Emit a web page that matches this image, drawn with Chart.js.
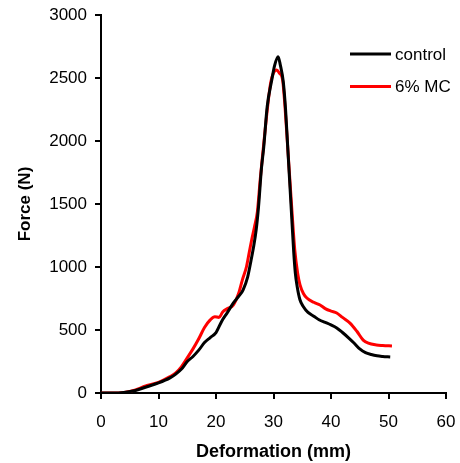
<!DOCTYPE html>
<html>
<head>
<meta charset="utf-8">
<script src="https://cdn.jsdelivr.net/npm/chart.js@4/dist/chart.umd.min.js"></script>
<style>
html,body{margin:0;padding:0;background:#fff;}
#wrap{position:relative;width:460px;height:463px;}
</style>
</head>
<body>
<div id="wrap"><canvas id="c" width="460" height="463"></canvas></div>
<script>
const seriesLabels = ["control", "6% MC"];
const seriesColors = ["#000000", "#ff0000"];
const controlX = [0,2,4,6,8,10,12,13,14,15,16,17,18,19,20,21,22,23,24,24.7,25.5,26,26.5,27,27.4,27.9,28.3,28.9,29.7,30.2,30.8,31.2,31.7,32.1,32.5,33.1,33.5,33.8,34.1,34.6,35.2,36,37,38,39,40,41,42,43,44,45,46,47,48,49,50.3];
const controlY = [0,0,5,20,50,80,120,150,190,250,290,340,400,440,480,570,640,714,770,817,920,1030,1150,1300,1480,1780,1950,2272,2484,2600,2669,2600,2470,2250,1930,1450,1130,950,850,740,685,640,610,579,560,540,516,480,440,397,350,320,305,295,290,286];
const mcX = [0,2,4,6,7.3,8,10,12,13,14,15,16,17,18,19,19.8,20.5,21.2,22,23,24,24.6,25.3,25.8,26.2,26.7,27.2,27.7,28.2,28.8,29.5,30,30.55,31,31.6,32,32.5,33.2,33.7,34.2,34.6,35.2,35.8,37,38.1,39,40,41,42,43.3,44.5,45.6,46.5,47.9,49,50.6];
const mcY = [0,0,5,25,48,60,85,130,160,210,280,350,430,520,580,606,600,645,670,698,800,900,1002,1120,1214,1320,1440,1700,1930,2200,2460,2540,2563,2540,2480,2272,1930,1450,1135,950,860,790,754,720,698,670,650,635,600,555,490,420,395,381,377,373];
const xTicks = [0,10,20,30,40,50,60];
const yTicks = [0,500,1000,1500,2000,2500,3000];

const toPts = (xs, ys) => xs.map((x, i) => ({x: x, y: ys[i]}));
const FAM = '"Liberation Sans", Arial, sans-serif';

const legendPlugin = {
  id: 'insideLegend',
  afterDraw(chart) {
    const ctx = chart.ctx;
    ctx.save();
    chart.data.datasets.forEach((ds, i) => {
      const y = 54 + i * 32.5;
      ctx.strokeStyle = ds.borderColor;
      ctx.lineWidth = 3;
      ctx.beginPath();
      ctx.moveTo(350, y);
      ctx.lineTo(391, y);
      ctx.stroke();
      ctx.fillStyle = '#000';
      ctx.font = '17px ' + FAM;
      ctx.textBaseline = 'middle';
      ctx.textAlign = 'left';
      ctx.fillText(ds.label, 395, y + 1);
    });
    ctx.restore();
  }
};

const font = {family: FAM, size: 17};

new Chart(document.getElementById('c'), {
  type: 'scatter',
  data: {
    datasets: [
      {label: seriesLabels[0], data: toPts(controlX, controlY), borderColor: seriesColors[0], backgroundColor: seriesColors[0], showLine: true, pointRadius: 0, borderWidth: 3, cubicInterpolationMode: 'monotone'},
      {label: seriesLabels[1], data: toPts(mcX, mcY), borderColor: seriesColors[1], backgroundColor: seriesColors[1], showLine: true, pointRadius: 0, borderWidth: 3, cubicInterpolationMode: 'monotone'}
    ]
  },
  options: {
    responsive: false,
    animation: false,
    layout: {padding: {top: 15, right: 14, left: 0, bottom: 0}},
    plugins: {legend: {display: false}, tooltip: {enabled: false}},
    scales: {
      x: {
        type: 'linear', min: 0, max: 60,
        afterBuildTicks: s => { s.ticks = xTicks.map(v => ({value: v})); },
        afterFit: s => { s.height = 70; s.paddingLeft = 0; s.paddingRight = 0; },
        grid: {display: true, drawOnChartArea: false, drawTicks: true, tickLength: 6, color: '#000', lineWidth: 2},
        border: {display: true, color: '#000', width: 2},
        ticks: {color: '#000', font: font, padding: 13, maxRotation: 0, callback: v => String(v)},
        title: {display: true, text: 'Deformation (mm)', color: '#000', font: {family: FAM, size: 18, weight: 'bold'}, padding: {top: 4, bottom: 0}}
      },
      y: {
        type: 'linear', min: 0, max: 3000,
        afterBuildTicks: s => { s.ticks = yTicks.map(v => ({value: v})); },
        afterFit: s => { s.width = 101; s.paddingTop = 0; s.paddingBottom = 0; },
        grid: {display: true, drawOnChartArea: false, drawTicks: true, tickLength: 6, color: '#000', lineWidth: 2},
        border: {display: true, color: '#000', width: 2},
        ticks: {color: '#000', font: font, padding: 8, callback: v => String(v)},
        title: {display: true, text: 'Force (N)', color: '#000', font: {family: FAM, size: 17, weight: 'bold'}, padding: {top: 15, bottom: 0}}
      }
    }
  },
  plugins: [legendPlugin]
});
</script>
</body>
</html>
